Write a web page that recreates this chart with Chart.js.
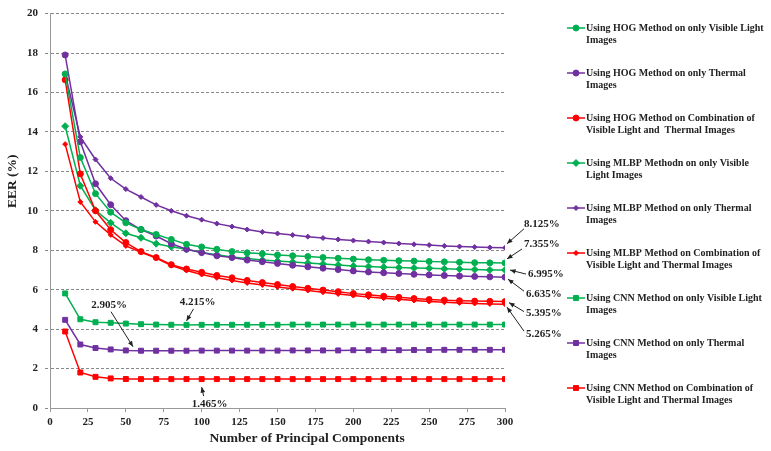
<!DOCTYPE html>
<html>
<head>
<meta charset="utf-8">
<script src="https://cdn.jsdelivr.net/npm/chart.js@4/dist/chart.umd.min.js"></script>
<style>
  html, body { margin: 0; padding: 0; background: #fff; }
  canvas { display: block; }
</style>
</head>
<body>
<canvas id="eerChart" width="771" height="451"></canvas>
<script>
// number of principal components (x)
const components = [10, 20, 30, 40, 50, 60, 70, 80, 90, 100, 110, 120, 130, 140, 150,
                    160, 170, 180, 190, 200, 210, 220, 230, 240, 250, 260, 270, 280, 290, 300];

// EER (%) per method
const hogVisible = [16.94, 12.7, 10.87, 9.93, 9.39, 9.05, 8.8, 8.55, 8.3, 8.17, 8.05, 7.93, 7.87, 7.82, 7.76,
                    7.72, 7.68, 7.63, 7.59, 7.55, 7.52, 7.49, 7.47, 7.45, 7.43, 7.41, 7.39, 7.37, 7.36, 7.355];
const hogThermal = [17.9, 13.5, 11.37, 10.31, 9.5, 9.05, 8.72, 8.33, 8.05, 7.88, 7.72, 7.63, 7.5, 7.42, 7.33,
                    7.24, 7.16, 7.09, 7.02, 6.95, 6.9, 6.86, 6.82, 6.78, 6.75, 6.72, 6.69, 6.67, 6.65, 6.635];
const hogCombo   = [16.64, 11.87, 10.0, 9.04, 8.39, 7.93, 7.63, 7.27, 7.05, 6.88, 6.72, 6.6, 6.47, 6.36, 6.26,
                    6.16, 6.07, 5.98, 5.9, 5.8, 5.74, 5.67, 5.61, 5.55, 5.5, 5.47, 5.44, 5.42, 5.41, 5.395];
const mlbpVisible = [14.29, 11.27, 10.03, 9.39, 8.86, 8.63, 8.33, 8.18, 8.05, 7.88, 7.77, 7.66, 7.58, 7.5, 7.45,
                     7.4, 7.35, 7.3, 7.25, 7.2, 7.17, 7.14, 7.12, 7.1, 7.09, 7.06, 7.04, 7.02, 7.0, 6.995];
const mlbpThermal = [16.94, 13.75, 12.6, 11.65, 11.1, 10.7, 10.3, 10.0, 9.75, 9.55, 9.35, 9.2, 9.05, 8.93, 8.85,
                     8.77, 8.69, 8.62, 8.55, 8.49, 8.44, 8.39, 8.34, 8.3, 8.26, 8.22, 8.19, 8.16, 8.14, 8.125];
const mlbpCombo   = [13.38, 10.45, 9.44, 8.78, 8.22, 7.9, 7.6, 7.22, 6.97, 6.77, 6.6, 6.47, 6.34, 6.24, 6.14,
                     6.05, 5.96, 5.87, 5.78, 5.7, 5.63, 5.57, 5.51, 5.45, 5.4, 5.36, 5.33, 5.3, 5.28, 5.265];
const cnnVisible = [5.81, 4.5, 4.35, 4.32, 4.28, 4.25, 4.23, 4.22, 4.215, 4.22, 4.22, 4.22, 4.22, 4.22, 4.22,
                    4.23, 4.23, 4.23, 4.23, 4.23, 4.23, 4.23, 4.23, 4.23, 4.23, 4.23, 4.23, 4.23, 4.23, 4.23];
const cnnThermal = [4.47, 3.22, 3.04, 2.97, 2.92, 2.905, 2.905, 2.905, 2.905, 2.91, 2.91, 2.91, 2.91, 2.91, 2.91,
                    2.92, 2.92, 2.92, 2.92, 2.93, 2.93, 2.93, 2.93, 2.94, 2.94, 2.95, 2.95, 2.95, 2.95, 2.95];
const cnnCombo   = [3.88, 1.8, 1.58, 1.5, 1.47, 1.465, 1.465, 1.465, 1.465, 1.465, 1.465, 1.465, 1.465, 1.465, 1.465,
                    1.465, 1.465, 1.465, 1.465, 1.465, 1.465, 1.465, 1.465, 1.465, 1.465, 1.465, 1.465, 1.465, 1.465, 1.465];

const yTicks = [0, 2, 4, 6, 8, 10, 12, 14, 16, 18, 20];
const xTicks = [0, 25, 50, 75, 100, 125, 150, 175, 200, 225, 250, 275, 300];

const xTitle = 'Number of Principal Components';
const yTitle = 'EER (%)';

const legendLines = [
  ['Using HOG Method on only Visible Light', 'Images'],
  ['Using HOG Method on only Thermal', 'Images'],
  ['Using HOG Method on Combination of', 'Visible Light and  Thermal Images'],
  ['Using MLBP Methodn on only Visible', 'Light Images'],
  ['Using MLBP Method on only Thermal', 'Images'],
  ['Using MLBP Method on Combination of', 'Visible Light and Thermal Images'],
  ['Using CNN Method on only Visible Light', 'Images'],
  ['Using CNN Method on only Thermal', 'Images'],
  ['Using CNN Method on Combination of', 'Visible Light and Thermal Images']
];

// callout labels: value, component they point at
const calloutValues = [8.125, 7.355, 6.995, 6.635, 5.395, 5.265, 2.905, 4.215, 1.465];
const calloutComps  = [300, 300, 300, 300, 300, 300, 60, 90, 100];

const GREEN = '#00b050', PURPLE = '#7030a0', RED = '#ff0000';
const SERIF = '"Liberation Serif", "DejaVu Serif", serif';

function series(label, values, color, style, radius) {
  return {
    label: label,
    data: components.map((c, i) => ({ x: c, y: values[i] })),
    borderColor: color,
    backgroundColor: color,
    borderWidth: 1.5,
    pointStyle: style,
    pointRadius: radius,
    pointBorderWidth: 1,
    tension: 0
  };
}

const datasets = [
  series(legendLines[0].join(' '), hogVisible, GREEN, 'circle', 3),
  series(legendLines[1].join(' '), hogThermal, PURPLE, 'circle', 3),
  series(legendLines[2].join(' '), hogCombo, RED, 'circle', 3),
  series(legendLines[3].join(' '), mlbpVisible, GREEN, 'rectRot', 3.5),
  series(legendLines[4].join(' '), mlbpThermal, PURPLE, 'rectRot', 2.5),
  series(legendLines[5].join(' '), mlbpCombo, RED, 'rectRot', 2.5),
  series(legendLines[6].join(' '), cnnVisible, GREEN, 'rect', 3.5),
  series(legendLines[7].join(' '), cnnThermal, PURPLE, 'rect', 3.5),
  series(legendLines[8].join(' '), cnnCombo, RED, 'rect', 3.5)
];

// offsets (px) from the data point: text anchor, arrow start, arrow tip
const calloutLayout = [
  { tx: 19, ty: -24, ax: 19, ay: -19, bx: 2, by: -4, align: 'left' },
  { tx: 19, ty: -19, ax: 17, ay: -14, bx: 2, by: -4, align: 'left' },
  { tx: 23, ty: 4, ax: 21, ay: 4, bx: 5, by: 0, align: 'left' },
  { tx: 21, ty: 17, ax: 19, ay: 14, bx: 3, by: 2, align: 'left' },
  { tx: 21, ty: 12, ax: 19, ay: 10, bx: 4, by: 1, align: 'left' },
  { tx: 21, ty: 30, ax: 19, ay: 27, bx: 2, by: 3, align: 'left' },
  { tx: -32, ty: -46, ax: -30, ay: -39, bx: -8, by: -4, align: 'center' },
  { tx: 11, ty: -23, ax: 7, ay: -16, bx: 0, by: -4, align: 'center' },
  { tx: 8, ty: 25, ax: 2, ay: 17, bx: 0, by: 8, align: 'center' }
];

function arrow(ctx, x1, y1, x2, y2) {
  const ang = Math.atan2(y2 - y1, x2 - x1);
  ctx.beginPath();
  ctx.moveTo(x1, y1);
  ctx.lineTo(x2, y2);
  ctx.stroke();
  ctx.beginPath();
  ctx.moveTo(x2, y2);
  ctx.lineTo(x2 - 6 * Math.cos(ang - 0.4), y2 - 6 * Math.sin(ang - 0.4));
  ctx.lineTo(x2 - 6 * Math.cos(ang + 0.4), y2 - 6 * Math.sin(ang + 0.4));
  ctx.closePath();
  ctx.fill();
}

const extras = {
  id: 'extras',
  afterDraw(chart) {
    const ctx = chart.ctx;
    const xs = chart.scales.x, ys = chart.scales.y;
    const area = chart.chartArea;

    // axis titles (placed like the original, a bit off-centre)
    ctx.save();
    ctx.fillStyle = '#222';
    ctx.font = 'bold 13.5px ' + SERIF;
    ctx.textAlign = 'center';
    ctx.textBaseline = 'middle';
    ctx.fillText(xTitle, area.left + (area.right - area.left) * 0.565, area.bottom + 31);
    ctx.translate(13, area.top + (area.bottom - area.top) * 0.425);
    ctx.rotate(-Math.PI / 2);
    ctx.fillText(yTitle, 0, 0);
    ctx.restore();

    // callouts
    ctx.save();
    ctx.font = 'bold 11px ' + SERIF;
    ctx.fillStyle = '#222';
    ctx.strokeStyle = '#222';
    ctx.lineWidth = 1;
    ctx.textBaseline = 'middle';
    calloutValues.forEach((v, i) => {
      const px = xs.getPixelForValue(calloutComps[i]);
      const py = ys.getPixelForValue(v);
      const L = calloutLayout[i];
      ctx.textAlign = L.align;
      ctx.fillText(v.toFixed(3) + '%', px + L.tx, py + L.ty);
      arrow(ctx, px + L.ax, py + L.ay, px + L.bx, py + L.by);
    });
    ctx.restore();

    // legend on the right
    ctx.save();
    const lx = 567, top = 28, step = 45;
    chart.data.datasets.forEach((ds, i) => {
      const y = top + i * step;
      ctx.strokeStyle = ds.borderColor;
      ctx.lineWidth = 1.5;
      ctx.beginPath();
      ctx.moveTo(lx, y);
      ctx.lineTo(lx + 18, y);
      ctx.stroke();
      ctx.fillStyle = ds.backgroundColor;
      ctx.strokeStyle = ds.borderColor;
      ctx.lineWidth = 1;
      Chart.helpers.drawPoint(ctx, { pointStyle: ds.pointStyle, radius: ds.pointRadius, rotation: 0, borderWidth: 1 }, lx + 9, y);
      ctx.save();
      ctx.translate(lx + 19, y);
      ctx.scale(0.91, 1);
      ctx.fillStyle = '#222';
      ctx.font = 'bold 11px ' + SERIF;
      ctx.textAlign = 'left';
      ctx.textBaseline = 'middle';
      legendLines[i].forEach((t, k) => ctx.fillText(t, 0, k * 12.5));
      ctx.restore();
    });
    ctx.restore();
  }
};

new Chart(document.getElementById('eerChart'), {
  type: 'line',
  data: { datasets: datasets },
  plugins: [extras],
  options: {
    responsive: false,
    animation: false,
    devicePixelRatio: 1,
    layout: { padding: { left: 0, right: 266, top: 3, bottom: 0 } },
    plugins: {
      legend: { display: false },
      tooltip: { enabled: false }
    },
    scales: {
      x: {
        type: 'linear',
        min: 0,
        max: 300,
        afterBuildTicks: s => { s.ticks = xTicks.map(v => ({ value: v })); },
        afterFit: s => { s.height = 43; },
        ticks: { font: { family: SERIF, size: 11, weight: 'bold' }, color: '#222', padding: 4, maxRotation: 0 },
        grid: { drawOnChartArea: false, drawTicks: true, tickLength: 4, color: '#999' },
        border: { color: '#999', width: 1 }
      },
      y: {
        min: 0,
        max: 20,
        afterBuildTicks: s => { s.ticks = yTicks.map(v => ({ value: v })); },
        afterFit: s => { s.width = 50; },
        ticks: { font: { family: SERIF, size: 11, weight: 'bold' }, color: '#222', padding: 7 },
        grid: { color: '#888', drawTicks: true, tickLength: 5, tickColor: '#888', tickBorderDash: [3, 2], lineWidth: 1 },
        border: { color: '#999', width: 1, dash: [3, 2] }
      }
    }
  }
});
</script>
</body>
</html>
